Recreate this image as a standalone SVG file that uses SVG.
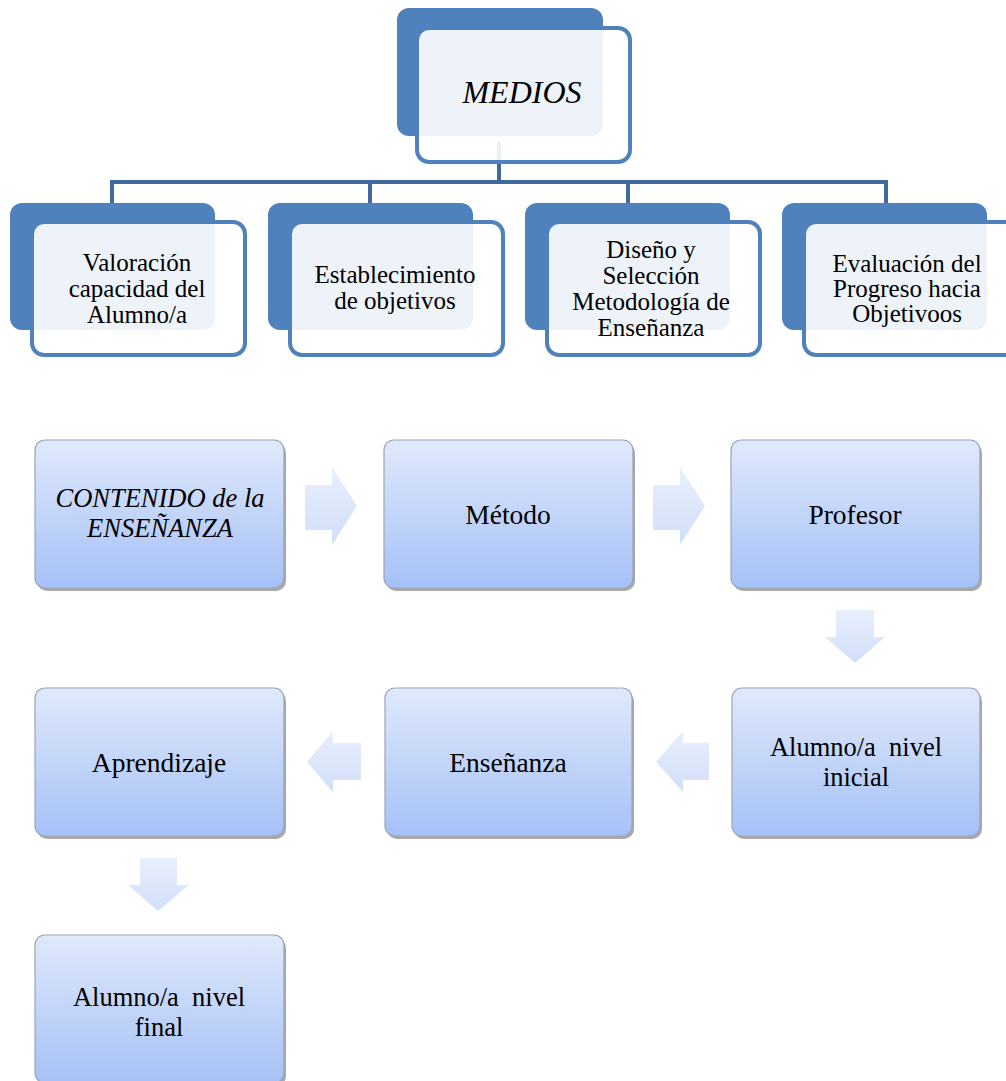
<svg xmlns="http://www.w3.org/2000/svg" width="1006" height="1081" viewBox="0 0 1006 1081">
<defs>
<linearGradient id="boxGrad" x1="0" y1="0" x2="0" y2="1">
<stop offset="0" stop-color="#e0e9fb"/>
<stop offset="1" stop-color="#a5c1f7"/>
</linearGradient>
<linearGradient id="arrowGrad" x1="0" y1="0" x2="0" y2="1">
<stop offset="0" stop-color="#e8effc"/>
<stop offset="1" stop-color="#d2dff9"/>
</linearGradient>
<style>
.dark{fill:#4f81bd;}
.inner{fill:#ffffff;fill-opacity:0.9;stroke:#4f81bd;stroke-width:4;}
.conn{stroke:#41699b;stroke-width:4;fill:none;}
.t{font-family:"Liberation Serif","Times New Roman",serif;fill:#000;text-anchor:middle;}
.tt{font-size:25px;}
.tb{font-size:27.5px;white-space:pre;}
.tb2{font-size:26.5px;white-space:pre;}
.it{font-style:italic;}
.shadow{fill:#6e6e6e;fill-opacity:0.6;}
.box{fill:url(#boxGrad);stroke:#9ba5b4;stroke-width:1.2;}
.arrow{fill:url(#arrowGrad);}
</style>
</defs>
<rect width="1006" height="1081" fill="#ffffff"/>

<g id="connectors">
<path class="conn" d="M499 142 V182 M110 182 H888 M112 182 V205 M370 182 V205 M628 182 V205 M886 182 V205"/>
</g>

<g id="medios">
<rect class="dark" x="397" y="8" width="206" height="128" rx="12"/>
<rect class="inner" x="417" y="28" width="213" height="134" rx="12"/>
<text class="t it" x="522" y="103" font-size="32">MEDIOS</text>
</g>

<g id="valoracion">
<rect class="dark" x="10" y="203" width="205" height="127" rx="12"/>
<rect class="inner" x="32" y="222" width="213" height="133" rx="12"/>
<text class="t tt" x="137" y="271">Valoración</text>
<text class="t tt" x="137" y="297">capacidad del</text>
<text class="t tt" x="137" y="323">Alumno/a</text>
</g>

<g id="establecimiento">
<rect class="dark" x="268" y="203" width="205" height="127" rx="12"/>
<rect class="inner" x="290" y="222" width="213" height="133" rx="12"/>
<text class="t tt" x="395" y="283">Establecimiento</text>
<text class="t tt" x="395" y="309">de objetivos</text>
</g>

<g id="diseno">
<rect class="dark" x="525" y="203" width="205" height="127" rx="12"/>
<rect class="inner" x="547" y="222" width="213" height="133" rx="12"/>
<text class="t tt" x="651" y="258">Diseño y</text>
<text class="t tt" x="651" y="284">Selección</text>
<text class="t tt" x="651" y="310">Metodología de</text>
<text class="t tt" x="651" y="336">Enseñanza</text>
</g>

<g id="evaluacion">
<rect class="dark" x="782" y="203" width="205" height="127" rx="12"/>
<rect class="inner" x="804" y="222" width="213" height="133" rx="12"/>
<text class="t tt" x="907" y="272">Evaluación del</text>
<text class="t tt" x="907" y="297">Progreso hacia</text>
<text class="t tt" x="907" y="322">Objetivoos</text>
</g>

<g id="flow-arrows">
<polygon class="arrow" points="305,485 332,485 332,467 357,506 332,545 332,530 305,530"/>
<polygon class="arrow" points="653,485 680,485 680,467 705,506 680,545 680,530 653,530"/>
<polygon class="arrow" points="836,610 874,610 874,637 885,637 855,663 825,637 836,637"/>
<polygon class="arrow" points="709,743 683,743 683,731 656,762 683,792 683,780 709,780"/>
<polygon class="arrow" points="361,743 333,743 333,731 307,762 333,792 333,780 361,780"/>
<polygon class="arrow" points="140,858 177,858 177,885 189,885 158,911 128,885 140,885"/>
</g>

<g id="contenido">
<rect class="shadow" x="37" y="443" width="249" height="148" rx="10"/>
<rect class="box" x="35" y="440" width="249" height="148" rx="10"/>
<text class="t tb2 it" x="160" y="507">CONTENIDO de la</text>
<text class="t tb2 it" x="160" y="537">ENSEÑANZA</text>
</g>

<g id="metodo">
<rect class="shadow" x="386" y="443" width="249" height="148" rx="10"/>
<rect class="box" x="384" y="440" width="249" height="148" rx="10"/>
<text class="t tb" x="508" y="524">Método</text>
</g>

<g id="profesor">
<rect class="shadow" x="733" y="443" width="249" height="148" rx="10"/>
<rect class="box" x="731" y="440" width="249" height="148" rx="10"/>
<text class="t tb" x="855" y="524">Profesor</text>
</g>

<g id="alumno-inicial">
<rect class="shadow" x="734" y="691" width="248" height="148" rx="10"/>
<rect class="box" x="732" y="688" width="248" height="148" rx="10"/>
<text class="t tb2" x="856" y="756">Alumno/a  nivel</text>
<text class="t tb2" x="856" y="786">inicial</text>
</g>

<g id="ensenanza">
<rect class="shadow" x="387" y="691" width="247" height="148" rx="10"/>
<rect class="box" x="385" y="688" width="247" height="148" rx="10"/>
<text class="t tb" x="508" y="772">Enseñanza</text>
</g>

<g id="aprendizaje">
<rect class="shadow" x="37" y="691" width="249" height="148" rx="10"/>
<rect class="box" x="35" y="688" width="249" height="148" rx="10"/>
<text class="t tb" x="159" y="772">Aprendizaje</text>
</g>

<g id="alumno-final">
<rect class="shadow" x="37" y="938" width="249" height="148" rx="10"/>
<rect class="box" x="35" y="935" width="249" height="148" rx="10"/>
<text class="t tb2" x="159" y="1006">Alumno/a  nivel</text>
<text class="t tb2" x="159" y="1036">final</text>
</g>
</svg>
